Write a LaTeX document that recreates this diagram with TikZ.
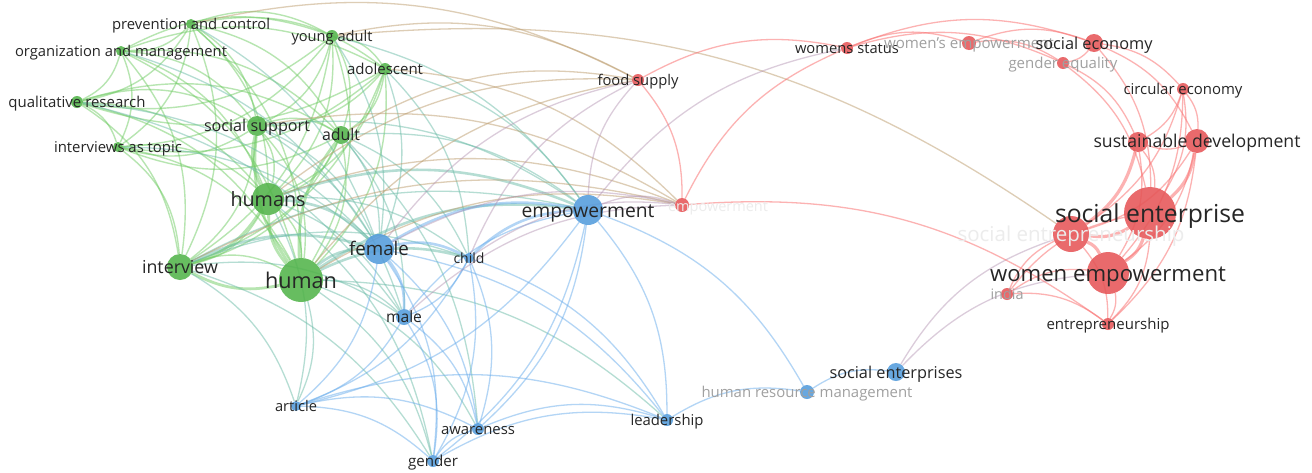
\documentclass[tikz,border=0pt]{standalone}
\usepackage{fontspec}
\setmainfont{Open Sans}
\pgfdeclarelayer{bg}
\pgfdeclarelayer{edges}
\pgfsetlayers{bg,edges,main}
\newlength\lblw
\newcommand\fitlabel[2]{%
  \settowidth\lblw{\fontsize{10pt}{12pt}\selectfont #2}%
  \pgfmathsetmacro\fsz{10*#1/\lblw}%
  \pgfmathsetmacro\fdrop{0.37*\fsz}%
  \fontsize{\fsz pt}{\fsz pt}\selectfont\raisebox{-\fdrop pt}[0pt][0pt]{#2}}
\definecolor{ng}{RGB}{82,180,74}
\definecolor{nb}{RGB}{84,156,220}
\definecolor{nr}{RGB}{230,86,88}
\definecolor{cg}{RGB}{112,204,100}
\definecolor{cb}{RGB}{104,172,236}
\definecolor{cr}{RGB}{250,116,116}
\colorlet{cgb}{cg!50!cb}
\colorlet{cbr}{cb!50!cr}
\colorlet{cgr}{cg!45!cr}
\definecolor{txt}{RGB}{38,38,38}
\definecolor{dim}{RGB}{160,160,160}
\definecolor{pale}{RGB}{236,236,236}
\tikzset{
  lg/.style={draw=cg,line width=1.4pt,draw opacity=.5},
  lgT/.style={draw=cg,line width=2.8pt,draw opacity=.5},
  lb/.style={draw=cb,line width=1.3pt,draw opacity=.5},
  lbT/.style={draw=cb,line width=2.6pt,draw opacity=.5},
  lr/.style={draw=cr,line width=1.3pt,draw opacity=.55},
  lrT/.style={draw=cr,line width=3.2pt,draw opacity=.55},
  lgb/.style={draw=cgb,line width=1.3pt,draw opacity=.5},
  lgbT/.style={draw=cgb,line width=2.6pt,draw opacity=.5},
  lbr/.style={draw=cbr,line width=1.3pt,draw opacity=.45},
  lgr/.style={draw=cgr,line width=1.3pt,draw opacity=.5},
  kw/.style={circle,inner sep=0pt,fill opacity=.88},
  lab/.style={inner sep=0pt}
}
\begin{document}
\begin{tikzpicture}[x=1pt,y=-1pt]
\begin{pgfonlayer}{bg}
\fill[white] (0,0) rectangle (1312,472);
\end{pgfonlayer}
\useasboundingbox (0,0) rectangle (1312,472);
% nodes
\foreach \n/\x/\y/\r/\c in {
  pc/191/24/5/ng, om/121/51/5/ng, ya/332/36/6/ng, ado/385/69/6/ng,
  qr/77/102/6/ng, ss/257/126/10/ng, adu/341/135/9/ng, iat/118/147/5/ng,
  hs/268/199/16/ng, iv/180/267/13/ng, hu/301/280/22/ng,
  fe/379/249/15/nb, ch/469/258/5/nb, ma/404/317/8/nb, em/588/210/15/nb,
  ar/296/406/5/nb, ge/433/461/6/nb, aw/478/429/6/nb, le/667/420/6/nb,
  hrm/807/392/7/nb, ses/896/372/9/nb,
  fs/638/80/6/nr, rem/682/205/7/nr, ws/847/48/6/nr, wse/969/43/7/nr,
  sec/1094/43/9/nr, geq/1063/63/6/nr, ce/1183/89/6/nr, sda/1138/142/10/nr,
  sd/1197/141/12/nr, se/1150/213/26/nr, sep/1071/234/18/nr, we/1108/273/21/nr,
  in/1007/294/6/nr, ent/1108/324/6/nr}
  {\node[kw,fill=\c,minimum size=2*\r pt] (\n) at (\x,\y) {};}
% edges
\begin{pgfonlayer}{edges}
\foreach \a [count=\i] in {pc,om,ya,ado,qr,ss,adu,iat,hs,iv,hu}{
  \foreach \b [count=\j] in {pc,om,ya,ado,qr,ss,adu,iat,hs,iv,hu}{
    \ifnum\j>\i \draw[lg] (\a) to[bend left=24] (\b);\fi}}
\foreach \a/\b/\s in {
  hu/hs/lgT, hu/iv/lgT, hs/iv/lgT, hu/ss/lgT, hs/ss/lgT, hu/adu/lgT,
  hu/fe/lgbT, hs/fe/lgbT, iv/fe/lgbT, hu/ma/lgb, hu/ch/lgbT, hu/em/lgbT,
  hu/ar/lgb, hu/ge/lgb, hu/aw/lgb, hu/le/lgb, hs/ma/lgb, hs/ch/lgb,
  hs/em/lgbT, hs/ar/lgb, hs/ge/lgb, iv/ma/lgb, iv/em/lgb, iv/ch/lgb,
  iv/ar/lgb, adu/fe/lgb, adu/ma/lgb, adu/ch/lgb, adu/em/lgb, ado/fe/lgb,
  ado/ch/lgb, ado/em/lgb, ya/fe/lgb, ya/em/lgb, ss/fe/lgb, ss/em/lgb,
  ss/ma/lgb, qr/fe/lgb, iat/fe/lgb, om/fe/lgb, pc/fe/lgb, adu/aw/lgb,
  iv/ge/lgb, qr/ma/lgb,
  fe/ch/lbT, fe/ma/lbT, fe/em/lbT, fe/ar/lb, fe/ge/lb, fe/aw/lb, fe/le/lb,
  ch/ma/lb, ch/em/lbT, ch/ar/lb, ch/ge/lb, ch/aw/lb, ch/le/lb, ma/em/lb,
  ma/ar/lb, ma/ge/lb, ma/aw/lb, em/ar/lb, em/ge/lb, em/aw/lb, em/le/lb,
  em/hrm/lb, ar/ge/lb, ar/aw/lb, ge/aw/lb, aw/le/lb, ge/le/lb, le/hrm/lb,
  hrm/ses/lb, ar/le/lb,
  hu/fs/lgr, hs/fs/lgr, adu/fs/lgr, ya/fs/lgr, pc/fs/lgr, ss/rem/lgr,
  hu/rem/lgr, hs/rem/lgr, iv/rem/lgr, ya/sep/lgr, ado/rem/lgr,
  em/fs/lbr, em/rem/lbr, em/ws/lbr, fe/fs/lbr, fe/rem/lbr, ch/rem/lbr,
  ch/fs/lbr, ma/rem/lbr, ses/we/lbr, ses/sep/lbr,
  fs/rem/lr, fs/ws/lr, rem/ws/lr, rem/ent/lr, ws/wse/lr, ws/sec/lr,
  wse/sec/lr, wse/geq/lr, ws/geq/lr, sec/geq/lr, sec/ce/lr, sec/sd/lr,
  geq/se/lr, geq/sda/lr, ce/sd/lr, ce/sda/lr, ce/se/lr, ce/we/lr,
  sd/sda/lr, sd/se/lrT, sd/we/lr, sd/sep/lr, sda/se/lr, sda/sep/lrT,
  sda/we/lr, se/sep/lrT, se/we/lrT, sep/we/lrT, se/ent/lr, we/ent/lr,
  sep/ent/lr, in/we/lr, in/se/lr, in/ent/lr, in/sep/lr, sec/se/lr,
  sd/ent/lr, ce/sep/lr}
  {\draw[\s] (\a) to[bend left=20] (\b);}
\end{pgfonlayer}
% labels
\foreach \n/\w/\t/\lc in {
  pc/158/prevention and control/txt, om/212/organization and management/txt,
  ya/81/young adult/txt, ado/76/adolescent/txt, qr/137/qualitative research/txt,
  ss/106/social support/txt, adu/38/adult/txt, iat/128/interviews as topic/txt,
  hs/75/humans/txt, iv/76/interview/txt, hu/72/human/txt,
  fe/60/female/txt, ch/31/child/txt, ma/36/male/txt, em/133/empowerment/txt,
  ar/42/article/txt, ge/50/gender/txt, aw/74/awareness/txt, le/73/leadership/txt,
  hrm/211/human resource management/dim, ses/133/social enterprises/txt,
  fs/81/food supply/txt, ws/104/womens status/txt,
  wse/170/women’s empowerment/dim, geq/109/gender equality/dim,
  sec/117/social economy/txt, ce/119/circular economy/txt,
  sd/207/sustainable development/txt, sep/227/social entrepreneurship/pale,
  se/190/social enterprise/txt, we/236/women empowerment/txt,
  in/33/india/dim, ent/123/entrepreneurship/txt}
  {\node[lab,text=\lc] (\n-l) at (\n) {\fitlabel{\w}{\t}};}
\node[lab,text=pale] (rem-l) at (718,206) {\fitlabel{100}{empowerment}};
\end{tikzpicture}
\end{document}
